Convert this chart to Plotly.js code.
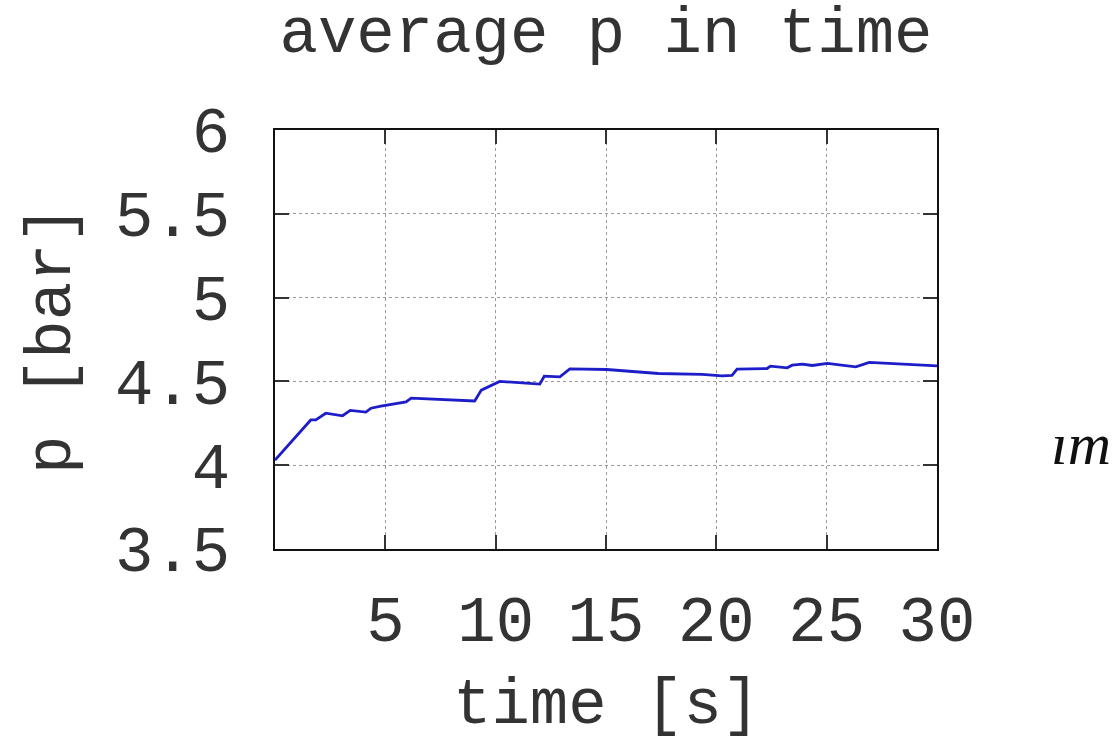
<!DOCTYPE html>
<html>
<head>
<meta charset="utf-8">
<script src="https://cdn.plot.ly/plotly-3.0.1.min.js"></script>
<style>
  html, body { margin: 0; padding: 0; background: #fff; }
  #chart { width: 1119px; height: 742px; }
</style>
</head>
<body>
<div id="chart"></div>
<script>
// Average pressure over simulation time
const timeS = [0, 1.62, 1.85, 2.3, 3.06, 3.41, 4.12, 4.35, 4.8, 5.71, 5.94, 6.17,
  9.05, 9.35, 9.74, 10.18, 12.0, 12.2, 12.91, 13.36, 15.03, 16.17, 17.38, 19.35,
  20.26, 20.71, 20.94, 22.3, 22.45, 23.21, 23.44, 23.9, 24.35, 25.03, 25.71, 26.32,
  26.93, 27.84, 28.44, 30.0];
const pBar = [4.03, 4.27, 4.27, 4.31, 4.295, 4.327, 4.317, 4.34, 4.353, 4.37, 4.378, 4.40,
  4.383, 4.448, 4.472, 4.50, 4.484, 4.531, 4.527, 4.575, 4.571, 4.561, 4.547, 4.542,
  4.533, 4.536, 4.573, 4.577, 4.591, 4.581, 4.597, 4.603, 4.595, 4.607, 4.597, 4.587,
  4.613, 4.607, 4.601, 4.593];

const xTicks = [5, 10, 15, 20, 25, 30];
const yTicks = [3.5, 4, 4.5, 5, 5.5, 6];
const yTickText = ['3.5', '4', '4.5', '5', '5.5', '6'];

const mono = 'Liberation Mono, Courier New, monospace';
const textColor = '#333';

const trace = {
  x: timeS,
  y: pBar,
  type: 'scatter',
  mode: 'lines',
  line: { color: 'rgb(30,30,200)', width: 2.8 },
  hoverinfo: 'x+y'
};

const axisCommon = {
  showline: true,
  linecolor: '#111',
  linewidth: 2,
  mirror: 'ticks',
  ticks: 'inside',
  ticklen: 14,
  tickwidth: 2,
  tickcolor: '#333',
  showgrid: true,
  gridcolor: '#9a9a9a',
  gridwidth: 1,
  griddash: 'dot',
  zeroline: false,
  automargin: false,
  tickfont: { family: mono, size: 64, color: textColor }
};

const layout = {
  width: 1119,
  height: 742,
  margin: { l: 275, r: 182, t: 130, b: 193 },
  paper_bgcolor: '#fff',
  plot_bgcolor: '#fff',
  showlegend: false,
  title: {
    text: 'average p in time',
    font: { family: mono, size: 64, color: textColor },
    x: 0.5, xref: 'paper',
    y: 1 - 30 / 742, yref: 'container', yanchor: 'middle'
  },
  xaxis: Object.assign({}, axisCommon, {
    range: [0, 30],
    tickvals: xTicks,
    ticklabelstandoff: 13
  }),
  yaxis: Object.assign({}, axisCommon, {
    range: [3.5, 6],
    tickvals: yTicks,
    ticktext: yTickText,
    ticklabelstandoff: 30,
    title: { text: 'p [bar]', font: { family: mono, size: 64, color: textColor }, standoff: 24 }
  }),
  annotations: [
    {
      // x-axis title, set below the tick labels
      text: 'time [s]',
      xref: 'paper', yref: 'paper',
      x: 0.5, y: (549 - 706) / 419,
      xanchor: 'center', yanchor: 'middle',
      showarrow: false,
      font: { family: mono, size: 64, color: textColor }
    },
    {
      text: '<i>ım</i>',
      xref: 'paper', yref: 'paper',
      x: (1081 - 275) / 662, y: (549 - 444) / 419,
      xanchor: 'center', yanchor: 'middle',
      showarrow: false,
      font: { family: 'Liberation Serif, Times New Roman, serif', size: 60, color: '#111' }
    }
  ]
};

Plotly.newPlot('chart', [trace], layout, { displayModeBar: false });
</script>
</body>
</html>
